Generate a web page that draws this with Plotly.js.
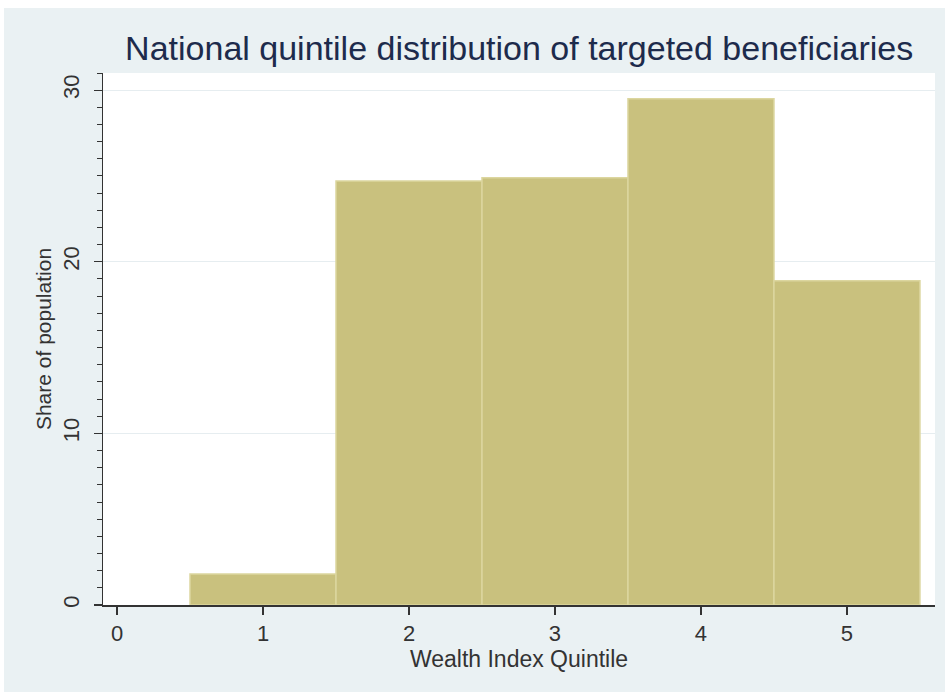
<!DOCTYPE html>
<html>
<head>
<meta charset="utf-8">
<script src="https://cdn.plot.ly/plotly-3.0.1.min.js"></script>
<style>
html,body{margin:0;padding:0;background:#ffffff;}
#chart{position:absolute;left:4px;top:8px;width:941px;height:684px;}
</style>
</head>
<body>
<div id="chart"></div>
<script>
const quintiles = [1, 2, 3, 4, 5];
const shares = [1.8, 24.7, 24.9, 29.5, 18.9];
const xTicks = [0, 1, 2, 3, 4, 5];
const yTicks = [0, 10, 20, 30];

const trace = {
  type: 'bar',
  x: quintiles,
  y: shares,
  width: 1,
  marker: {color: '#C9C17E', line: {color: '#DCD69F', width: 1.5}},
  hoverinfo: 'x+y'
};

const layout = {
  width: 941,
  height: 684,
  paper_bgcolor: '#EAF1F3',
  plot_bgcolor: '#FFFFFF',
  margin: {l: 99, r: 10, t: 65, b: 87},
  showlegend: false,
  bargap: 0,
  font: {family: 'Liberation Sans, Arial, sans-serif', color: '#2a2a2a'},
  title: {
    text: 'National quintile distribution of targeted beneficiaries',
    font: {size: 34, color: '#1D2B4C', family: 'Liberation Sans, Arial, sans-serif'},
    x: 0.5475, xanchor: 'center', y: 0.942, yanchor: 'middle'
  },
  xaxis: {
    range: [-0.096, 5.603],
    tickvals: xTicks,
    ticktext: xTicks.map(String),
    ticks: 'outside', ticklen: 8, tickcolor: '#333', tickwidth: 1.2,
    showline: true, linecolor: '#333', linewidth: 1.5,
    showgrid: false, zeroline: false,
    tickfont: {size: 22, color: '#333'},
    title: {text: 'Wealth Index Quintile', font: {size: 23, color: '#333'}, standoff: 3}
  },
  yaxis: {
    range: [0, 31],
    tickvals: yTicks,
    ticktext: yTicks.map(String),
    tickangle: -90,
    ticks: 'outside', ticklen: 8, tickcolor: '#333', tickwidth: 1.2,
    ticklabelstandoff: 6,
    minor: {dtick: 1, ticks: 'outside', ticklen: 5, tickcolor: '#333', tickwidth: 1, showgrid: false},
    showline: true, linecolor: '#333', linewidth: 1.5,
    showgrid: true, gridcolor: '#E6EDF0', gridwidth: 1,
    zeroline: false,
    tickfont: {size: 22, color: '#333'},
    title: {text: 'Share of population', font: {size: 21, color: '#333'}, standoff: 1}
  }
};

Plotly.newPlot('chart', [trace], layout, {displayModeBar: false, staticPlot: true});
</script>
</body>
</html>
